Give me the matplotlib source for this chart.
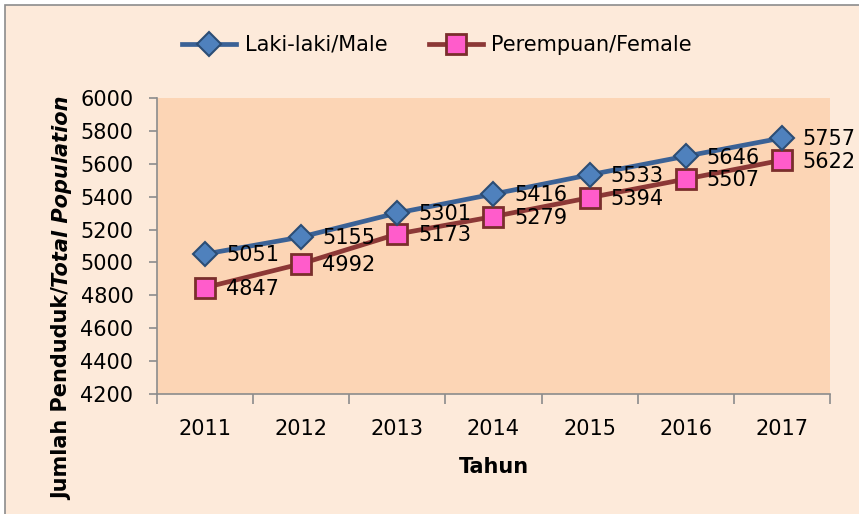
import matplotlib.pyplot as plt
from matplotlib.patches import Rectangle

# ---------- Data ----------
years = ["2011", "2012", "2013", "2014", "2015", "2016", "2017"]
male = [5051, 5155, 5301, 5416, 5533, 5646, 5757]
female = [4847, 4992, 5173, 5279, 5394, 5507, 5622]
y_ticks = [4200, 4400, 4600, 4800, 5000, 5200, 5400, 5600, 5800, 6000]

FONT = "DejaVu Sans"
FS = 15

plt.rcParams["font.family"] = FONT

fig = plt.figure(figsize=(8.59, 5.14), dpi=100)
fig.patch.set_facecolor("white")

# outer chart frame (partly cropped in the reference)
fig.patches.append(Rectangle((5 / 859, -0.05), 1.1, 1 - 5 / 514 + 0.05,
                             transform=fig.transFigure, facecolor="#FDEADA",
                             edgecolor="#8C8C8C", linewidth=1.2, zorder=-5))

ax = fig.add_axes([157 / 859, 1 - 394 / 514, (830 - 157) / 859, (394 - 98) / 514])
ax.set_zorder(2)
ax.set_facecolor("#FCD5B5")

x = list(range(len(years)))
ax.plot(x, male, color="#3B6296", linewidth=3.4, marker="D", markersize=12.5,
        markerfacecolor="#4F81BD", markeredgecolor="#2C4D75", markeredgewidth=1.5,
        label="Laki-laki/Male", zorder=4)
ax.plot(x, female, color="#8C3836", linewidth=3.4, marker="s", markersize=15,
        markerfacecolor="#FF5CCB", markeredgecolor="#7A2E2C", markeredgewidth=2,
        label="Perempuan/Female", zorder=3)

for xi, v in zip(x, male):
    ax.annotate(str(v), (xi, v), xytext=(15, -1), textcoords="offset points",
                ha="left", va="center", fontsize=FS, zorder=5)
for xi, v in zip(x, female):
    ax.annotate(str(v), (xi, v), xytext=(15, -1), textcoords="offset points",
                ha="left", va="center", fontsize=FS, zorder=5)

ax.set_xlim(-0.5, len(years) - 0.5)
ax.set_ylim(4200, 6000)
ax.set_yticks(y_ticks)
ax.set_yticklabels([str(t) for t in y_ticks], fontsize=FS)
ax.set_xticks(x)
ax.set_xticklabels(years, fontsize=FS)
ax.set_xticks([i - 0.5 for i in range(len(years) + 1)], minor=True)
ax.tick_params(axis="x", which="major", length=0, pad=18)
ax.tick_params(axis="x", which="minor", length=7, color="#8C8C8C", width=1.2)
ax.tick_params(axis="y", length=6, color="#8C8C8C", width=1.2, pad=11)

for s in ["top", "right"]:
    ax.spines[s].set_visible(False)
for s in ["left", "bottom"]:
    ax.spines[s].set_color("#8C8C8C")
    ax.spines[s].set_linewidth(1.2)

ax.set_xlabel("Tahun", fontsize=FS, fontweight="bold", labelpad=13)

# y label: normal bold part + bold italic part
fig.canvas.draw()
renderer = fig.canvas.get_renderer()
YFS = 15
t1 = fig.text(62 / 859, 1 - 500 / 514, "Jumlah Penduduk/", rotation=90,
              fontsize=YFS, fontweight="bold", ha="center", va="bottom")
bb = t1.get_window_extent(renderer)
fig.text(62 / 859, bb.y1 / fig.bbox.height, "Total Population", rotation=90,
         fontsize=YFS, fontweight="bold", fontstyle="italic", ha="center", va="bottom")

fig.legend(loc="center", bbox_to_anchor=(437 / 859, 1 - 45 / 514), ncol=2,
           frameon=False, fontsize=FS, handlelength=2.6, columnspacing=2.0,
           handletextpad=0.4)

fig.savefig("out.png", dpi=100, facecolor=fig.get_facecolor())
